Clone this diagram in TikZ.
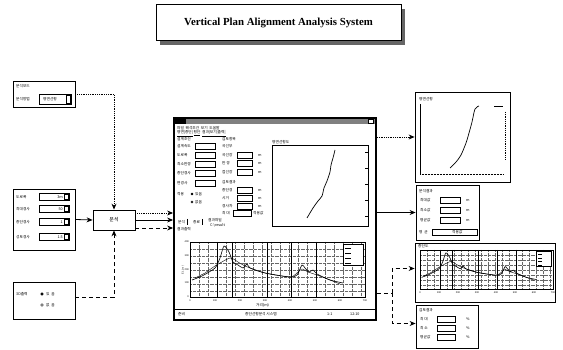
\documentclass[tikz,border=0pt]{standalone}
\usepackage{fontspec}
\setmainfont{Liberation Serif}
\newfontfamily\krfont{Noto Sans CJK KR}
\usetikzlibrary{calc,positioning,arrows,arrows.meta,shadows}
\tikzset{
    >={Stealth[length=6pt,width=5pt]},
    panel/.style={
        rectangle,
        draw=black, thick,
        fill=white,
        inner sep=0pt
    },
    winbox/.style={panel, line width=1.8pt},
    field/.style={draw=black, line width=0.5pt, fill=white},
    small/.style={font=\krfont\fontsize{3.7}{4}\selectfont, inner sep=0pt, anchor=west},
    numtext/.style={font=\sffamily\fontsize{2.6}{3}\selectfont, inner sep=0pt},
    dotarrow/.style={draw, densely dotted, thick, ->},
    linearrow/.style={draw, thick, ->},
    dasharrow/.style={draw, dash pattern=on 4pt off 3pt, thick, ->},
    chart/.pic={
        \draw[black!60, densely dotted, line width=0.3pt]
            \foreach \gx in {9,18,...,171} {(\gx,0) -- (\gx,55)}
            \foreach \gy in {7,14,...,49} {(0,\gy) -- (175,\gy)};
        \draw[line width=0.4pt] \foreach \gx in {27,42,77,101,126} {(\gx,0) -- (\gx,55)};
        \draw[line width=0.6pt] (0,0) rectangle (175,55);
        \draw[line width=0.6pt] plot[smooth, tension=0.4] coordinates {(2,38) (12,34) (25,26) (30,16) (34,4)
            (39,10) (43,20) (48,23) (53,26) (57,22) (60,26) (75,31) (100,35) (107,33) (112,23) (115,26)
            (119,30) (123,28) (127,32) (140,38) (153,41)};
        \draw[line width=0.4pt] plot[smooth, tension=0.4] coordinates {(5,36) (15,31) (25,24) (40,16)
            (48,20) (55,24) (75,31) (100,35) (107,31) (112,27) (118,30) (127,33) (140,38) (150,42)};
        \draw[fill=white, line width=0.4pt] (153,2) rectangle (173,23);
        \foreach \ly in {6,11,16,21} \draw[line width=0.6pt] (155,\ly) -- (161,\ly);
        \foreach \tx/\tv [count=\i] in {0/0,25/100,50/200,75/300,100/400,125/500,150/600,175/700}
            \node[numtext] (tick\i) at (\tx,59) {\tv};
    }
}

\begin{document}
\begin{tikzpicture}[x=1pt, y=-1pt]
\useasboundingbox (0,0) rectangle (563,350);

% title
\node[panel, line width=1pt, minimum width=245pt, minimum height=36pt,
      drop shadow={shadow xshift=4pt, shadow yshift=-4pt, fill=black!60, opacity=1},
      font=\bfseries\fontsize{10.8}{12}\selectfont] (title) at (278.5,23) {Vertical Plan Alignment Analysis System};

% input panels
\node[panel, minimum width=62pt, minimum height=26pt] (optbox) at (44,94) {};
\node[small] (opt-t) at (16,86) {분석모드};
\node[small] (opt-l) at (16,99) {분석방법};
\draw[field] (39,94) rectangle (71,104);
\node[small] (opt-v) at (43,99) {평면선형};
\draw[field] (66,95) rectangle (70,103);

\node[panel, minimum width=62pt, minimum height=61pt] (parbox) at (44,219.5) {};
\foreach \ry/\rl/\rv [count=\i] in {197/도로폭/3m, 209/최대경사/50, 222/종단경사/1, 237/성토경사/1.5} {
    \node[small] (par-l\i) at (16,\ry) {\rl};
    \draw[field] (39,\ry-3.5) rectangle (69,\ry+3.5);
    \node[small, anchor=east] (par-v\i) at (63,\ry) {\rv};
    \draw[field] (64,\ry-2.5) rectangle (68,\ry+2.5);
}

\node[panel, minimum width=62pt, minimum height=37pt] (outbox) at (44,300.5) {};
\node[small] (out-l) at (16,294) {3D출력};
\draw[fill=black] (42,294) circle (1.3pt);
\draw (42,305) circle (1.3pt);
\node[small] (out-a) at (46,294) {있 \ 음};
\node[small] (out-b) at (46,305) {없 \ 음};

\node[panel, minimum width=42pt, minimum height=20pt, font=\krfont\fontsize{5}{6}\selectfont] (runbox) at (114,220) {분석};

% main window
\node[winbox, minimum width=202pt, minimum height=202pt] (mainwin) at (275,219) {};
\fill[black!50] (175,119) rectangle (375,124);
\fill[black] (175,119) rectangle (186,124);
\draw[field] (368,119.5) rectangle (373,123.5);
\node[small] (mw-menu) at (177,128) {파일 \ 해석조건 \ 보기 \ 도움말};
\node[small] (mw-tool) at (177,133.5) {\underline{평면|종단|} \underline{횡단} \ \underline{결과|보기|출력|}};
\node[small] (mw-g1) at (177,139) {설계조건};
\foreach \ry/\rl [count=\i] in {146/설계속도, 155/도로폭, 164/최소반경, 173/종단경사, 183/편경사} {
    \node[small] (mw-l\i) at (177,\ry) {\rl};
    \draw[field] (195,\ry-3) rectangle (215,\ry+3);
}
\node[small] (mw-ap) at (177,194) {적용};
\draw[fill=black] (192,194) circle (1pt);
\draw (192,202) circle (1pt);
\node[small] (mw-a1) at (195,194) {있음};
\node[small] (mw-a2) at (195,202) {없음};
\node[small] (mw-g2) at (222,139) {검토항목};
\node[small] (mw-g2a) at (222,146) {곡선부};
\foreach \ry/\rl [count=\i] in {155/곡선장, 163/반 경, 172/접선장, 190/종단경, 198/시거, 206/경사차} {
    \node[small] (mw-m\i) at (222,\ry) {\rl};
    \draw[field] (237,\ry-3) rectangle (252,\ry+3);
    \node[small] (mw-u\i) at (258,\ry) {m};
}
\node[small] (mw-g3) at (222,182) {검토결과};
\node[small] (mw-mx) at (222,213) {최 대};
\draw[field] (233,210) rectangle (251,216);
\node[small] (mw-mv) at (253,213) {적용값};
\node[small] (mw-b1) at (178,222) {분석};
\node[small] (mw-b2) at (193,222) {종료};
\draw[line width=0.3pt] (187,219) -- (187,225) (202,219) -- (202,225);
\node[small] (mw-f1) at (208,220) {결과파일};
\node[small] (mw-f2) at (210,225) {C:\textbackslash result};
\node[small] (mw-f3) at (177,229) {결과출력};

% plan plot
\node[small] (mw-pl) at (272,142) {평면선형도};
\draw[line width=0.6pt] (272,145) rectangle (368,226);
\draw[line width=0.7pt] plot[smooth, tension=0.5] coordinates {(307,218) (313,208) (318,201) (322,196)
    (324,188) (327,181) (330,172) (331,165) (333,158) (335,150)};
\draw[line width=0.4pt] \foreach \ty in {152,168,184,200,216} {(365,\ty) -- (368,\ty)};

% profile chart
\pic (mainchart) at (190,242) {chart};
\foreach \ty/\tv [count=\i] in {242/400,256/300,270/200,283/100,297/0}
    \node[numtext, anchor=east] (ylab\i) at (189,\ty) {\tv};
\node[numtext, rotate=90] (ytitle) at (183,270) {EL.(m)};
\node[small] (xtitle) at (256,305) {거리(m)};
\draw[line width=0.3pt] (175,309) -- (375,309);
\node[small] (st-1) at (178,314) {준비};
\node[small] (st-2) at (245,314) {종단선형분석 시스템};
\node[small] (st-3) at (327,314) {1:1};
\node[small] (st-4) at (350,314) {12:10};

% output panels
\node[panel, minimum width=95pt, minimum height=90pt] (profbox) at (462.5,137) {};
\node[small] (pf-t) at (419,99) {평면선형};
\draw[line width=0.3pt] (420,104) -- (420,174);
\draw[line width=0.5pt, densely dotted] (420,174) -- (503,174);
\draw[line width=0.7pt] plot[smooth, tension=0.5] coordinates {(450,168) (456,162) (461,155) (466,143)
    (469,133) (472,122) (475,109) (479,106)};
\draw[line width=0.5pt] (494,106) -- (503,106);
\draw[line width=0.8pt, densely dotted] (505,112) -- (505,160);

\node[panel, minimum width=63pt, minimum height=55pt] (sumbox) at (447.5,212.5) {};
\node[small] (sm-t) at (419,191) {분석결과};
\foreach \ry/\rl [count=\i] in {200/최대값, 210/최소값, 220/평균값} {
    \node[small] (sm-l\i) at (420,\ry) {\rl};
    \draw[field] (440,\ry-3) rectangle (460,\ry+3);
    \node[small] (sm-u\i) at (466,\ry) {m};
}
\node[small] (sm-av) at (419,232) {평 \ 균};
\draw[field] (432,229) rectangle (477,235);
\node[small] (sm-avv) at (452,232) {적용값};

\node[panel, minimum width=140pt, minimum height=59pt] (grfbox) at (485,272.5) {};
\node[small] (gr-t) at (418,246.5) {종단도};
\pic[xscale=0.76, yscale=0.72] (subchart) at (420,250) {chart};

\node[panel, minimum width=62pt, minimum height=43pt] (chkbox) at (447,326.5) {};
\node[small] (ck-t) at (419,310) {검토결과};
\foreach \ry/\rl [count=\i] in {319/최 대, 328/최 소, 337/평균값} {
    \node[small] (ck-l\i) at (420,\ry) {\rl};
    \draw[field] (437,\ry-3) rectangle (455,\ry+3);
    \node[small] (ck-u\i) at (466,\ry) {\%};
}

% connectors
\draw[dotarrow] (optbox.east) -| (runbox.north);
\draw[linearrow] (parbox.east) -- (runbox.west);
\draw[dasharrow] ([yshift=3pt]outbox.east) -| (runbox.south);
\draw[dotarrow] ([yshift=7pt]runbox.east) -- ([yshift=7pt]runbox.east -| mainwin.west);
\draw[linearrow] (runbox.east) -- (runbox.east -| mainwin.west);
\draw[dasharrow] ([yshift=-8pt]runbox.east) -- ([yshift=-8pt]runbox.east -| mainwin.west);
\draw[dotarrow] (mainwin.east |- profbox.west) -- (profbox.west);
\draw[linearrow] (mainwin.east |- sumbox.west) -- (sumbox.west);
\coordinate (split) at (392,293);
\draw[thick, dash pattern=on 4pt off 3pt] (mainwin.east |- split) -- (split);
\draw[dasharrow] (split) |- ([yshift=4pt]grfbox.west);
\draw[dasharrow] (split) |- ([yshift=3pt]chkbox.west);
\end{tikzpicture}
\end{document}
